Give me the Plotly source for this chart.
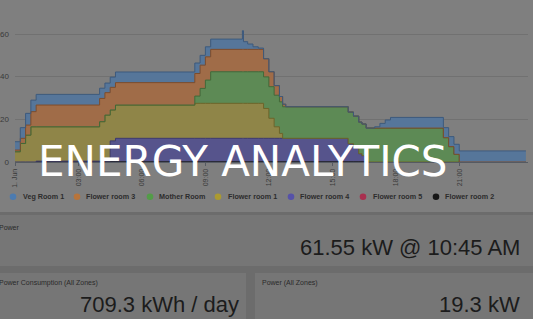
import plotly.graph_objects as go

W, H = 533, 319

# ---------------- data ----------------
hours = [0, 0.25, 0.5, 0.75, 1.0, 4.0, 4.25, 4.5, 4.75, 8.5, 8.75, 9.0, 9.25,
         10.75, 10.8, 11.0, 11.25, 11.5, 11.75, 12.0, 12.25, 12.5, 12.65, 12.8,
         15.75, 16.0, 16.25, 16.4, 16.6, 17.0, 17.25, 17.5, 17.75, 20.25, 20.5,
         20.75, 21.0, 24.15]

flower_room_2 = [0, 0, 0, 0] + [0.4] * 24 + [0] * 10
flower_room_5 = [0] * 38
flower_room_4 = [0] * 7 + [9.5] + [10.7] * 16 + [8.2, 6.3, 3.5, 2.6] + [0] * 10
flower_room_1 = ([4.8, 8.7, 12.6, 16.5, 16.1, 18.5, 21.6, 14.5, 15.6] + [16.4] * 9
                 + [14.0, 9.4, 5.4, 2.3] + [0] * 16)
mother_room = ([0] * 9 + [3.4, 7.0, 10.9] + [14.8] * 16 + [15.9] * 5
               + [11.4, 7.2, 3.6] + [0, 0])
flower_room_3 = ([0.8, 2.4, 4.7, 7.1, 10.2, 10.9, 10.5, 10.6, 10.5, 10.6, 10.9, 10.9]
                 + [10.5] * 6 + [8.5, 7.0, 4.5, 2.5, 1.2] + [0] * 15)
veg_room_1 = ([3.9, 5.0, 5.5, 5.4, 5.0, 4.8, 4.5, 4.8, 5.0, 4.9, 4.6, 4.7, 4.8]
              + [8.75, 3.6, 2.5, 1.2, 0.6] + [0] * 11
              + [0.6, 2.2, 3.8, 5.0, 4.7, 4.7, 4.7, 5.2, 5.2])

# bottom of stack first
series_names = ["Flower room 2", "Flower room 5", "Flower room 4", "Flower room 1",
                "Mother Room", "Flower room 3", "Veg Room 1"]
series_values = [flower_room_2, flower_room_5, flower_room_4, flower_room_1,
                 mother_room, flower_room_3, veg_room_1]

x_tick_vals = [0, 3, 6, 9, 12, 15, 18, 21]
x_tick_text = ["1. Jun", "03:00", "06:00", "09:00", "12:00", "15:00", "18:00", "21:00"]
y_tick_vals = [0, 20, 40, 60]

legend_order = ["Veg Room 1", "Flower room 3", "Mother Room", "Flower room 1",
                "Flower room 4", "Flower room 5", "Flower room 2"]

peak_text = "61.55 kW @ 10:45 AM"
consumption_text = "709.3 kWh / day"
power_now_text = "19.3 kW"

# ---------------- styles ----------------
fill_colors = {
    "Veg Room 1": "#56769a",
    "Flower room 3": "#a06c48",
    "Mother Room": "#5d8a55",
    "Flower room 1": "#8f8548",
    "Flower room 4": "#56548c",
    "Flower room 5": "#9a3a55",
    "Flower room 2": "#1a1a1a",
}
line_colors = {
    "Veg Room 1": "#3d5a7d",
    "Flower room 3": "#7e4c2a",
    "Mother Room": "#3f6a38",
    "Flower room 1": "#6e6528",
    "Flower room 4": "#3b3870",
    "Flower room 5": "#8a2040",
    "Flower room 2": "#151515",
}
legend_colors = {
    "Veg Room 1": "#4c7bb0",
    "Flower room 3": "#b8743a",
    "Mother Room": "#539c48",
    "Flower room 1": "#ab9a30",
    "Flower room 4": "#5652a8",
    "Flower room 5": "#a8304f",
    "Flower room 2": "#171717",
}
legend_circle_x = [13, 77, 150, 218, 291, 363, 436]
legend_text_x = [21, 84, 157, 226, 298, 371, 443]
legend_y = 196.7


def px(x):
    return x / W


def py(y):
    return 1 - y / H


fig = go.Figure()
for name, vals in zip(series_names, series_values):
    fig.add_trace(go.Scatter(
        x=hours, y=vals, name=name, mode="lines",
        stackgroup="power", line_shape="hv",
        line=dict(color=line_colors[name], width=0 if name == "Flower room 5" else 1),
        fillcolor=fill_colors[name], showlegend=False, hoverinfo="skip",
    ))

shapes = []
# dashboard background panels
shapes.append(dict(type="rect", xref="paper", yref="paper", x0=0, x1=1, y0=py(212), y1=1,
                   fillcolor="#7f7f7f", line_width=0, layer="below"))
shapes.append(dict(type="rect", xref="paper", yref="paper", x0=0, x1=1, y0=py(266), y1=py(215),
                   fillcolor="#767676", line_width=0, layer="below"))
shapes.append(dict(type="rect", xref="paper", yref="paper", x0=px(-5), x1=px(246), y0=0, y1=py(273),
                   fillcolor="#767676", line_width=0, layer="below"))
shapes.append(dict(type="rect", xref="paper", yref="paper", x0=px(255), x1=1.01, y0=0, y1=py(273),
                   fillcolor="#767676", line_width=0, layer="below"))
# legend circles
for cx, name in zip(legend_circle_x, legend_order):
    shapes.append(dict(type="circle", xref="paper", yref="paper",
                       x0=px(cx - 3.3), x1=px(cx + 3.3), y0=py(legend_y + 3.3), y1=py(legend_y - 3.3),
                       fillcolor=legend_colors[name], line_width=0, layer="above"))

ann = []
for tx, name in zip(legend_text_x, legend_order):
    ann.append(dict(x=px(tx), y=py(legend_y), xref="paper", yref="paper", text="<b>%s</b>" % name,
                    showarrow=False, xanchor="left", yanchor="middle",
                    font=dict(family="Liberation Sans", size=7.2, color="#2c2c2c")))

small_font = dict(family="Liberation Sans", size=7, color="#2a2a2a")
big_font = dict(family="Liberation Sans", size=22, color="#1c1c1c")
ann.append(dict(x=px(-3), y=py(227), xref="paper", yref="paper", text="Power", showarrow=False,
                xanchor="left", yanchor="middle", font=small_font))
ann.append(dict(x=px(-3), y=py(283), xref="paper", yref="paper", text="Power Consumption (All Zones)",
                showarrow=False, xanchor="left", yanchor="middle", font=small_font))
ann.append(dict(x=px(260), y=py(283), xref="paper", yref="paper", text="Power (All Zones)",
                showarrow=False, xanchor="left", yanchor="middle", font=small_font))
ann.append(dict(x=px(522), y=py(247.5), xref="paper", yref="paper", text=peak_text, showarrow=False,
                xanchor="right", yanchor="middle", font=big_font))
ann.append(dict(x=px(241), y=py(304), xref="paper", yref="paper", text=consumption_text, showarrow=False,
                xanchor="right", yanchor="middle", font=big_font))
ann.append(dict(x=px(522), y=py(304), xref="paper", yref="paper", text=power_now_text, showarrow=False,
                xanchor="right", yanchor="middle", font=big_font))
ann.append(dict(x=px(242.5), y=py(161), xref="paper", yref="paper", text="ENERGY ANALYTICS",
                showarrow=False, xanchor="center", yanchor="middle",
                font=dict(family="DejaVu Sans", size=42, color="#ffffff")))

fig.update_layout(
    width=W, height=H,
    margin=dict(l=0, r=0, t=0, b=0),
    paper_bgcolor="#6c6c6c", plot_bgcolor="#7f7f7f",
    showlegend=False,
    shapes=shapes, annotations=ann,
    xaxis=dict(domain=[px(15), px(528)], range=[0, 24.25], tickvals=x_tick_vals, ticktext=x_tick_text,
               tickangle=-90, tickfont=dict(family="Liberation Sans", size=7, color="#3a3a3a"),
               showgrid=False, zeroline=False, showline=True, linecolor="#555a62", linewidth=1,
               ticks="outside", ticklen=3, tickcolor="#555a62", automargin=False),
    yaxis=dict(domain=[py(162), 1], range=[0, 75.94], tickvals=y_tick_vals,
               tickfont=dict(family="Liberation Sans", size=8, color="#3a3a3a"),
               showgrid=True, gridcolor="#717171", gridwidth=1, zeroline=False, showline=False,
               ticks="", ticklabelstandoff=5, automargin=False),
)

fig.write_html("out.html")
